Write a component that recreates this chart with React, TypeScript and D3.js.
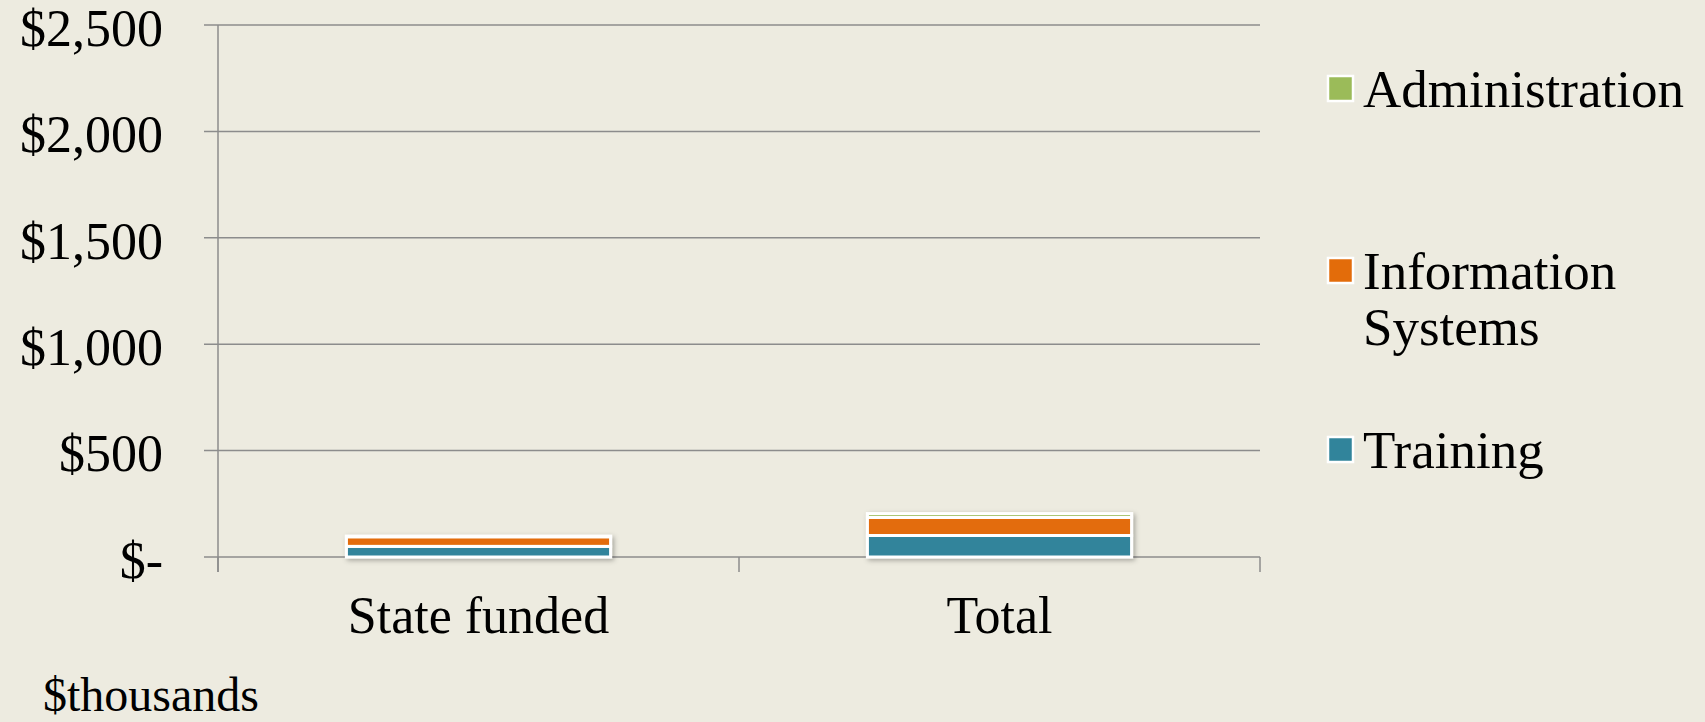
import React from "react";
import * as d3 from "d3";

// values in $thousands
const categories = ["State funded", "Total"];
const seriesNames = ["Training", "Information Systems", "Administration"];
const training = [50, 101];
const infoSystems = [45, 85];
const administration = [3, 18];
const yTicks = [0, 500, 1000, 1500, 2000, 2500];
const colors = ["#31849B", "#E36C0A", "#9BBB59"];

const width = 1705;
const height = 722;
const margin = { top: 25, right: 445, bottom: 165, left: 218 };
const font = "Georgia, 'Liberation Serif', serif";

const fmt = (v: number) => (v === 0 ? "$-" : "$" + d3.format(",")(v));

export default function App() {
  const rows = categories.map((c, i) => ({
    cat: c,
    Training: training[i],
    "Information Systems": infoSystems[i],
    Administration: administration[i],
  }));
  const stacked = d3.stack<any>().keys(seriesNames)(rows);

  const x = d3
    .scaleBand()
    .domain(categories)
    .range([margin.left, width - margin.right])
    .paddingInner(0)
    .paddingOuter(0);
  const y = d3
    .scaleLinear()
    .domain([0, 2500])
    .range([height - margin.bottom, margin.top]);

  const barW = x.bandwidth() * 0.507;
  const y0 = y(0);

  // legend, top to bottom
  const legend = [
    { name: ["Administration"], color: colors[2], y: 88 },
    { name: ["Information", "Systems"], color: colors[1], y: 270 },
    { name: ["Training"], color: colors[0], y: 449 },
  ];

  return (
    <div style={{ position: "absolute", left: 0, top: 0 }}>
      <svg width={width} height={height} style={{ display: "block", background: "#EDEBE0" }}>
        <defs>
          <filter id="shadow" x="-10%" y="-50%" width="120%" height="200%">
            <feDropShadow dx="2" dy="2" stdDeviation="2.5" floodColor="#000" floodOpacity="0.3" />
          </filter>
        </defs>

        {/* gridlines + y ticks */}
        {yTicks.map((t) => (
          <g key={t}>
            <line x1={margin.left - 14} x2={width - margin.right} y1={y(t)} y2={y(t)} stroke="#8c8c8c" strokeWidth={1.5} />
            <text
              x={163}
              y={y(t)}
              dy="0.4em"
              textAnchor="end"
              fontFamily={font}
              fontSize={52}
              fill="#000"
            >
              {fmt(t)}
            </text>
          </g>
        ))}

        {/* y axis line */}
        <line x1={margin.left} x2={margin.left} y1={y(2500)} y2={y0 + 15} stroke="#8c8c8c" strokeWidth={1.5} />

        {/* x ticks */}
        {[...categories.map((c) => x(c) as number), width - margin.right].map((px, i) => (
          <line key={i} x1={px} x2={px} y1={y0} y2={y0 + 15} stroke="#8c8c8c" strokeWidth={1.5} />
        ))}

        {/* bars */}
        {categories.map((c, ci) => {
          const cx = (x(c) as number) + x.bandwidth() / 2;
          return (
            <g key={c} filter="url(#shadow)">
              {stacked.map((s, si) => {
                const d = s[ci];
                return (
                  <rect
                    key={si}
                    x={cx - barW / 2}
                    y={y(d[1])}
                    width={barW}
                    height={y(d[0]) - y(d[1])}
                    fill={colors[si]}
                    stroke="#fff"
                    strokeWidth={3}
                  />
                );
              })}
            </g>
          );
        })}

        {/* category labels */}
        {categories.map((c) => (
          <text
            key={c}
            x={(x(c) as number) + x.bandwidth() / 2}
            y={633}
            textAnchor="middle"
            fontFamily={font}
            fontSize={52}
            fill="#000"
          >
            {c}
          </text>
        ))}

        <text x={43} y={711} fontFamily={font} fontSize={48} fill="#000">
          $thousands
        </text>

        {/* legend */}
        {legend.map((l) => (
          <g key={l.name[0]}>
            <rect x={1328} y={l.y - 12} width={25} height={25} fill={l.color} stroke="#fff" strokeWidth={2.5} />
            <text x={1363} y={l.y} fontFamily={font} fontSize={53} fill="#000">
              {l.name.map((n, i) => (
                <tspan key={n} x={1363} dy={i === 0 ? "0.36em" : "1.05em"}>
                  {n}
                </tspan>
              ))}
            </text>
          </g>
        ))}
      </svg>
    </div>
  );
}
